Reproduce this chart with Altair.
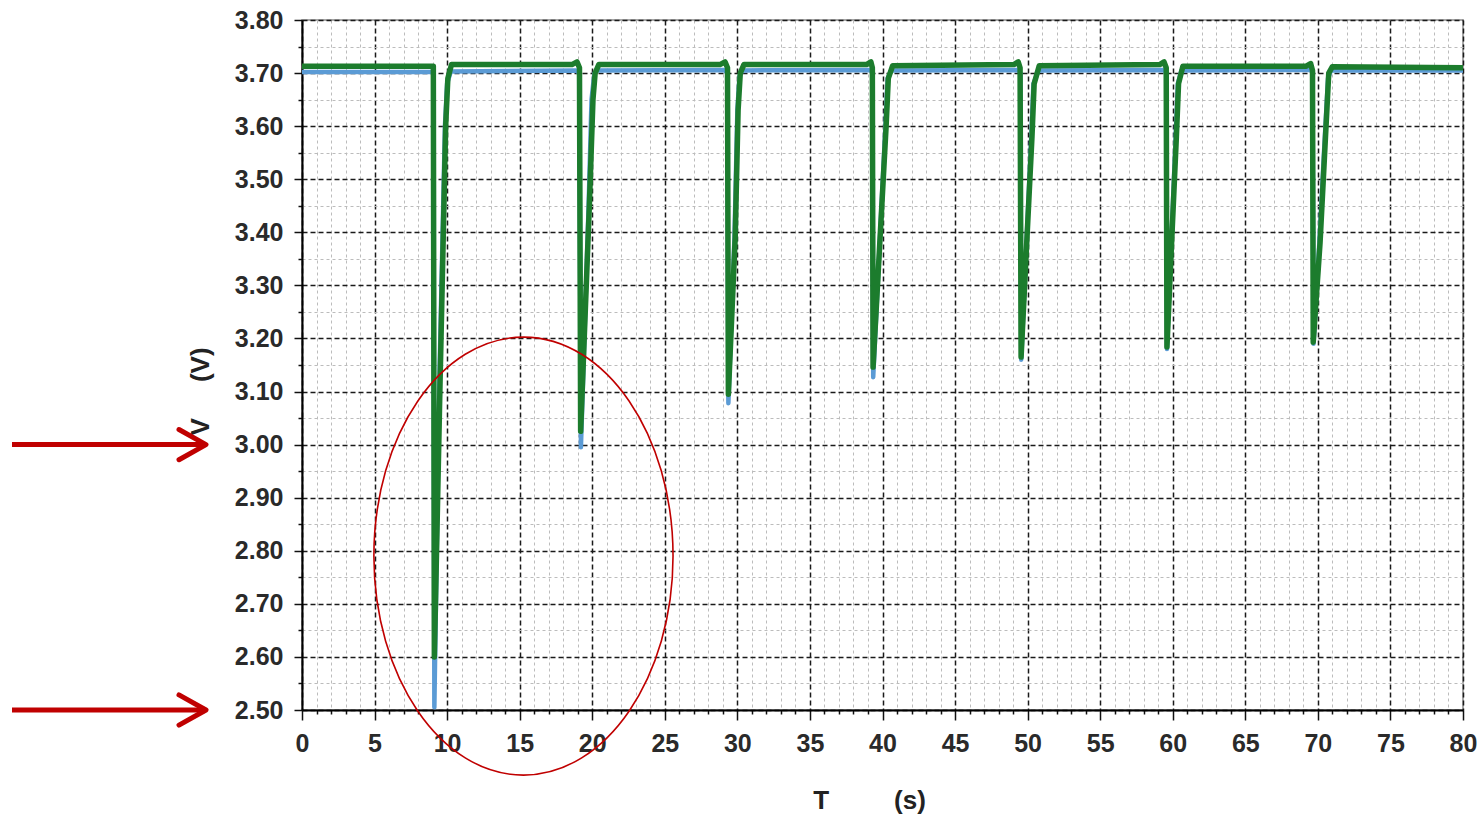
import altair as alt
import pandas as pd

# ---- data ----
green_t = [0, 8.9, 9.05, 9.12, 9.5, 9.9, 10.05, 10.3,
           18.6, 18.95, 19.12, 19.2, 19.8, 20.05, 20.2, 20.45,
           28.8, 29.15, 29.32, 29.38, 29.85, 30.05, 30.2, 30.45,
           38.9, 39.2, 39.3, 39.35, 40.25, 40.4, 40.7,
           49.05, 49.35, 49.48, 49.55, 50.3, 50.45, 50.8,
           59.1, 59.4, 59.55, 59.6, 60.25, 60.4, 60.7,
           69.2, 69.5, 69.63, 69.68, 70.15, 70.45, 70.75, 71.0,
           80]
green_v = [3.713, 3.713, 3.713, 2.600, 3.100, 3.600, 3.690, 3.716,
           3.716, 3.721, 3.710, 3.025, 3.450, 3.650, 3.700, 3.716,
           3.716, 3.721, 3.710, 3.095, 3.390, 3.630, 3.700, 3.716,
           3.716, 3.721, 3.710, 3.146, 3.600, 3.690, 3.714,
           3.716, 3.721, 3.710, 3.165, 3.580, 3.680, 3.714,
           3.716, 3.721, 3.710, 3.184, 3.580, 3.680, 3.713,
           3.713, 3.718, 3.705, 3.193, 3.380, 3.540, 3.700, 3.712,
           3.710]

blue_t = [0, 8.95, 9.05, 9.12, 9.45, 9.85, 10.0, 10.25,
          18.9, 19.1, 19.22, 19.75, 19.95, 20.15, 20.35,
          29.1, 29.3, 29.38, 29.8, 30.0, 30.15, 30.35,
          39.15, 39.3, 39.36, 40.2, 40.35, 40.6,
          49.35, 49.5, 49.56, 50.25, 50.4, 50.75,
          59.4, 59.55, 59.6, 60.2, 60.35, 60.6,
          69.5, 69.63, 69.7, 70.1, 70.4, 70.7, 70.9,
          80]
blue_v = [3.702, 3.702, 3.700, 2.505, 3.100, 3.600, 3.680, 3.703,
          3.705, 3.700, 2.995, 3.450, 3.650, 3.700, 3.705,
          3.706, 3.700, 3.078, 3.390, 3.630, 3.695, 3.705,
          3.706, 3.700, 3.127, 3.600, 3.690, 3.705,
          3.706, 3.700, 3.160, 3.580, 3.680, 3.705,
          3.706, 3.700, 3.180, 3.580, 3.680, 3.705,
          3.706, 3.700, 3.190, 3.380, 3.540, 3.690, 3.705,
          3.705]

arrow_levels = [3.00, 2.50]
ellipse_center_t = [15.26]
ellipse_center_v = [2.79]

x_ticks = list(range(0, 81))
y_ticks = [round(2.50 + 0.05 * i, 2) for i in range(27)]

GREEN = "#1C7C2D"
BLUE = "#5B9BD5"
RED = "#C00000"
FONT = "Liberation Sans"

green_df = pd.DataFrame({"t": green_t, "v": green_v})
blue_df = pd.DataFrame({"t": blue_t, "v": blue_v})
arrow_df = pd.DataFrame({"v": arrow_levels})
ell_df = pd.DataFrame({"t": ellipse_center_t, "v": ellipse_center_v})

xs = alt.Scale(domain=[0, 80], nice=False, zero=False)
ys = alt.Scale(domain=[2.5, 3.8], nice=False, zero=False)

x_major = "datum.value % 5 === 0"
y_major = "round(datum.value * 100) % 10 === 0"

xaxis = alt.Axis(
    values=x_ticks, tickCount=500, format="d",
    title="T\u00a0\u00a0\u00a0\u00a0\u00a0\u00a0\u00a0\u00a0\u00a0(s)",
    labelExpr=f"{x_major} ? datum.label : ''",
    labelOverlap=False, labelBound=False, labelFlush=False,
    labelFont=FONT, labelFontSize=25, labelFontWeight="bold", labelColor="#2a2a2a",
    labelPadding=11,
    tickColor="#111",
    tickSize={"condition": {"test": x_major, "value": 10}, "value": 4},
    tickWidth=1.5,
    domainColor="#000", domainWidth=2,
    grid=True,
    gridColor={"condition": {"test": x_major, "value": "#1a1a1a"}, "value": "#bcbcbc"},
    gridDash={"condition": {"test": x_major, "value": [5, 3]}, "value": [3, 3]},
    gridWidth={"condition": {"test": x_major, "value": 1.5}, "value": 1},
    titleFont=FONT, titleFontSize=26, titleFontWeight="bold", titleColor="#222",
    titleX=567, titleY=90, titleAlign="center", titleBaseline="middle", titleAngle=0,
)

yaxis = alt.Axis(
    values=y_ticks, tickCount=500,
    format=".2f",
    title="V\u00a0\u00a0\u00a0\u00a0\u00a0(V)",
    labelExpr=f"{y_major} ? datum.label : ''",
    labelOverlap=False, labelBound=False, labelFlush=False,
    labelFont=FONT, labelFontSize=25, labelFontWeight="bold", labelColor="#2a2a2a",
    labelPadding=11,
    tickColor="#111",
    tickSize={"condition": {"test": y_major, "value": 8}, "value": 4},
    tickWidth=1.5,
    domainColor="#000", domainWidth=2,
    grid=True,
    gridColor={"condition": {"test": y_major, "value": "#1a1a1a"}, "value": "#bcbcbc"},
    gridDash={"condition": {"test": y_major, "value": [5, 3]}, "value": [3, 3]},
    gridWidth={"condition": {"test": y_major, "value": 1.5}, "value": 1},
    titleFont=FONT, titleFontSize=26, titleFontWeight="bold", titleColor="#222",
    titleX=-102, titleY=371, titleAlign="center", titleBaseline="middle", titleAngle=270,
)

blue_line = alt.Chart(blue_df).mark_line(
    color=BLUE, strokeWidth=4.5, strokeJoin="round"
).encode(
    x=alt.X("t:Q", scale=xs, axis=xaxis),
    y=alt.Y("v:Q", scale=ys, axis=yaxis),
)

green_line = alt.Chart(green_df).mark_line(
    color=GREEN, strokeWidth=5.5, strokeJoin="round"
).encode(
    x=alt.X("t:Q"),
    y=alt.Y("v:Q"),
)

ellipse = alt.Chart(ell_df).mark_point(
    shape="M 0 -1 A 0.683 1 0 1 1 0 1 A 0.683 1 0 1 1 0 -1 Z",
    filled=False, stroke=RED, strokeWidth=1.6, size=191844, opacity=1,
).encode(
    x=alt.X("t:Q"),
    y=alt.Y("v:Q"),
)

arrow_shaft = alt.Chart(arrow_df).mark_rule(
    color=RED, strokeWidth=5
).encode(
    x=alt.value(-290), x2=alt.value(-100),
    y=alt.Y("v:Q"),
)

arrow_head = alt.Chart(arrow_df).mark_point(
    shape="M -1 -0.56 L 0 0 L -1 0.56",
    filled=False, stroke=RED, strokeWidth=5, size=2916, opacity=1,
    strokeCap="round", strokeJoin="round",
).encode(
    x=alt.value(-96),
    y=alt.Y("v:Q"),
)

chart = alt.layer(
    blue_line, green_line, ellipse, arrow_shaft, arrow_head
).properties(
    width=1161, height=690,
    padding={"left": 302, "top": 20, "right": 19, "bottom": 112},
    autosize=alt.AutoSizeParams(type="none"),
    background="white",
).configure_view(
    stroke="#8a8a8a", strokeWidth=1.5
)

chart.save("out.html", embed_options={"renderer": "svg", "actions": False})
